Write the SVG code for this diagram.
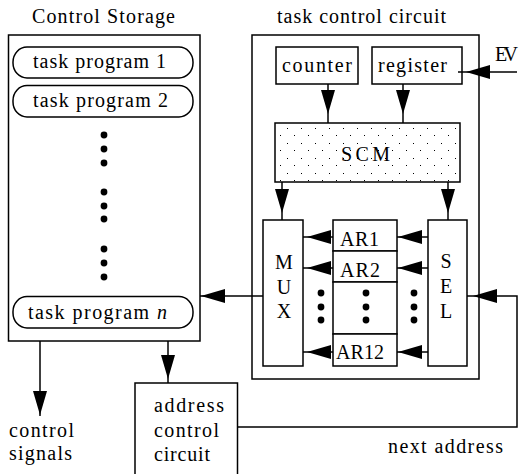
<svg xmlns="http://www.w3.org/2000/svg" width="519" height="474" viewBox="0 0 519 474">
  <style>
    .box { fill: #ffffff; stroke: #000000; stroke-width: 1.5; }
    .frame { fill: none; stroke: #000000; stroke-width: 1.5; }
    .stippled { fill: url(#stipple); stroke: #000000; stroke-width: 1.5; }
    .pill { fill: #ffffff; stroke: #000000; stroke-width: 1.5; }
    .wire { fill: none; stroke: #000000; stroke-width: 1.5; }
    .ghost { fill: none; stroke: none; }
    .mid { text-anchor: middle; }
    .dot { fill: #000000; }
  </style>
  <defs>
    <!-- filled arrowhead, tip at the origin, pointing along +x; refX sets the gap before the line end -->
    <marker id="head" markerUnits="userSpaceOnUse" viewBox="-30 -10 40 20" markerWidth="40" markerHeight="20" refX="4" refY="0" orient="auto" overflow="visible">
      <path d="M0,0 L-24,-7 L-24,7 Z" fill="#000000"/>
    </marker>
    <marker id="headTouch" markerUnits="userSpaceOnUse" viewBox="-30 -10 40 20" markerWidth="40" markerHeight="20" refX="1" refY="0" orient="auto" overflow="visible">
      <path d="M0,0 L-24,-7 L-24,7 Z" fill="#000000"/>
    </marker>
    <!-- staggered stipple used for the SCM block -->
    <pattern id="stipple" patternUnits="userSpaceOnUse" x="283" y="124" width="14" height="15">
      <rect x="0" y="0" width="14" height="15" fill="#ffffff"/>
      <rect x="4" y="4" width="1" height="1" fill="#000000"/>
      <rect x="11" y="11" width="1" height="1" fill="#000000"/>
    </pattern>
  </defs>

  <g font-family="Liberation Serif, Times New Roman, serif" font-size="20" fill="#000000">

  <!-- Control Storage -->
  <g id="control-storage">
    <text x="32" y="23" textLength="143" lengthAdjust="spacing">Control Storage</text>
    <rect class="box" x="8.5" y="35" width="191.5" height="306"/>
    <rect class="pill" x="13" y="47" width="180" height="31" rx="14" ry="15"/>
    <text x="33" y="68" textLength="133" lengthAdjust="spacing">task program 1</text>
    <rect class="pill" x="13" y="85.5" width="180" height="31.5" rx="14" ry="15"/>
    <text x="33" y="107" textLength="135" lengthAdjust="spacing">task program 2</text>
    <circle class="dot" cx="104" cy="135" r="3.4"/>
    <circle class="dot" cx="104" cy="149" r="3.4"/>
    <circle class="dot" cx="104" cy="163" r="3.4"/>
    <circle class="dot" cx="104" cy="192" r="3.4"/>
    <circle class="dot" cx="104" cy="206" r="3.4"/>
    <circle class="dot" cx="104" cy="219" r="3.4"/>
    <circle class="dot" cx="104" cy="249" r="3.4"/>
    <circle class="dot" cx="104" cy="263" r="3.4"/>
    <circle class="dot" cx="104" cy="277" r="3.4"/>
    <rect class="pill" x="13" y="296.5" width="180" height="31.5" rx="14" ry="15"/>
    <text x="28" y="319" textLength="139" lengthAdjust="spacing">task program <tspan font-style="italic">n</tspan></text>
  </g>

  <!-- task control circuit frame -->
  <g id="task-control-circuit">
    <text x="277" y="23" textLength="169" lengthAdjust="spacing">task control circuit</text>
    <rect class="frame" x="252" y="35" width="227" height="344"/>
  </g>

  <g id="counter">
    <rect class="box" x="276" y="47" width="82" height="37"/>
    <text x="282" y="72" textLength="70" lengthAdjust="spacing">counter</text>
  </g>

  <g id="register">
    <rect class="box" x="372" y="47" width="90" height="37"/>
    <text x="378" y="72" textLength="69" lengthAdjust="spacing">register</text>
  </g>

  <g id="scm">
    <rect class="stippled" x="275" y="123" width="185" height="59"/>
    <text x="341" y="161" textLength="49" lengthAdjust="spacing">SCM</text>
  </g>

  <g id="mux">
    <rect class="box" x="263" y="220" width="40" height="146"/>
    <text class="mid" x="284" y="269">M</text>
    <text class="mid" x="284" y="294">U</text>
    <text class="mid" x="284" y="318">X</text>
  </g>

  <g id="address-registers">
    <rect class="box" x="333" y="220" width="64" height="31"/>
    <text x="340" y="246" textLength="39" lengthAdjust="spacing">AR1</text>
    <rect class="box" x="333" y="251" width="64" height="31"/>
    <text x="340" y="277" textLength="40" lengthAdjust="spacing">AR2</text>
    <rect class="box" x="333" y="282" width="64" height="52"/>
    <circle class="dot" cx="366" cy="293" r="3.4"/>
    <circle class="dot" cx="366" cy="307" r="3.4"/>
    <circle class="dot" cx="366" cy="320" r="3.4"/>
    <rect class="box" x="333" y="334" width="64" height="32"/>
    <text x="336" y="359" textLength="48" lengthAdjust="spacing">AR12</text>
  </g>

  <g id="sel">
    <rect class="box" x="428" y="220" width="39" height="146"/>
    <text class="mid" x="446" y="268">S</text>
    <text class="mid" x="446" y="293">E</text>
    <text class="mid" x="446" y="318">L</text>
  </g>

  <g id="address-control-circuit">
    <rect class="box" x="135" y="383" width="102.5" height="95"/>
    <text x="154" y="412" textLength="70" lengthAdjust="spacing">address</text>
    <text x="154" y="437" textLength="65" lengthAdjust="spacing">control</text>
    <text x="154" y="461" textLength="56" lengthAdjust="spacing">circuit</text>
  </g>

  <!-- free labels -->
  <g id="labels">
    <text x="495" y="61" textLength="23" lengthAdjust="spacing">EV</text>
    <text x="9" y="437" textLength="65" lengthAdjust="spacing">control</text>
    <text x="9" y="460" textLength="63" lengthAdjust="spacing">signals</text>
    <text x="388" y="453" textLength="115" lengthAdjust="spacing">next address</text>
  </g>

  </g>

  <!-- bundle of dots between the multiplexer, registers and selector -->
  <g id="bus-dots">
    <circle class="dot" cx="321" cy="293" r="3.4"/>
    <circle class="dot" cx="321" cy="307" r="3.4"/>
    <circle class="dot" cx="321" cy="320" r="3.4"/>
    <circle class="dot" cx="414" cy="293" r="3.4"/>
    <circle class="dot" cx="414" cy="307" r="3.4"/>
    <circle class="dot" cx="414" cy="320" r="3.4"/>
  </g>

  <g id="connectors">
    <!-- counter / register into SCM -->
    <line class="wire" x1="328" y1="84" x2="328" y2="123"/>
    <line class="ghost" x1="328" y1="84" x2="328" y2="118" marker-end="url(#head)"/>
    <line class="wire" x1="403" y1="84" x2="403" y2="123"/>
    <line class="ghost" x1="403" y1="84" x2="403" y2="118" marker-end="url(#head)"/>
    <!-- SCM into MUX and SEL -->
    <line class="wire" x1="282" y1="182" x2="282" y2="220"/>
    <line class="ghost" x1="282" y1="182" x2="282" y2="217" marker-end="url(#head)"/>
    <line class="wire" x1="448" y1="182" x2="448" y2="220"/>
    <line class="ghost" x1="448" y1="182" x2="448" y2="217" marker-end="url(#head)"/>
    <!-- address registers into MUX -->
    <line class="wire" x1="333" y1="237" x2="303" y2="237" marker-end="url(#head)"/>
    <line class="wire" x1="333" y1="268" x2="303" y2="268" marker-end="url(#head)"/>
    <line class="wire" x1="333" y1="352" x2="303" y2="352" marker-end="url(#head)"/>
    <!-- SEL into address registers -->
    <line class="wire" x1="428" y1="237" x2="397" y2="237" marker-end="url(#headTouch)"/>
    <line class="wire" x1="428" y1="268" x2="397" y2="268" marker-end="url(#headTouch)"/>
    <line class="wire" x1="428" y1="352" x2="397" y2="352" marker-end="url(#headTouch)"/>
    <!-- EV into register -->
    <line class="wire" x1="517" y1="72" x2="458" y2="72"/>
    <line class="ghost" x1="517" y1="72" x2="465" y2="72" marker-end="url(#headTouch)"/>
    <!-- MUX back to Control Storage -->
    <line class="wire" x1="263" y1="296" x2="200" y2="296" marker-end="url(#headTouch)"/>
    <!-- Control Storage outputs -->
    <line class="wire" x1="40" y1="341" x2="40" y2="416" marker-end="url(#headTouch)"/>
    <line class="wire" x1="168" y1="341" x2="168" y2="383" marker-end="url(#head)"/>
    <!-- next address loop back into SEL -->
    <polyline class="wire" points="237.5,427 517,427 517,296 467,296"/>
    <line class="ghost" x1="517" y1="296" x2="472" y2="296" marker-end="url(#headTouch)"/>
  </g>
</svg>
